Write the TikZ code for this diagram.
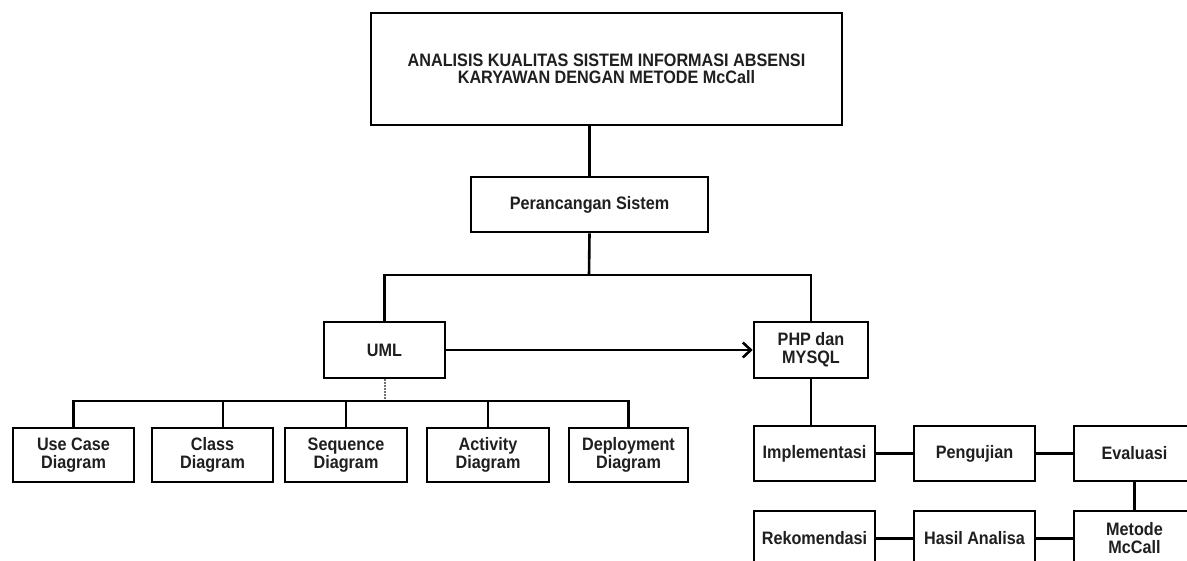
\documentclass[tikz,border=0pt]{standalone}
\usepackage{fontspec}
\setmainfont{Liberation Sans}[FakeStretch=0.9]
\usetikzlibrary{arrows.meta}
\tikzset{
  box/.style={draw=black, line width=2.6pt, fill=white, align=center, inner sep=0pt,
    font=\bfseries\fontsize{18}{18}\selectfont, text=black!88},
  conn/.style={draw=black, line width=2.6pt},
  gconn/.style={draw=black!55, line width=2pt, densely dotted},
}
\begin{document}
\begin{tikzpicture}[x=1pt,y=-1pt]
\useasboundingbox (0,0) rectangle (1187,561);
% top
\node[box, minimum width=471pt, minimum height=112pt, font=\bfseries\fontsize{18}{17}\selectfont]
  (title) at (606.5,69) {ANALISIS KUALITAS SISTEM INFORMASI ABSENSI\\KARYAWAN DENGAN METODE McCall};
\node[box, minimum width=237pt, minimum height=55pt] (per) at (589.5,204.5) {Perancangan Sistem};
\node[box, minimum width=121pt, minimum height=56pt] (uml) at (384.5,350) {UML};
\node[box, minimum width=114pt, minimum height=56pt] (php) at (811,350) {PHP dan\\MYSQL};
% UML children
\node[box, minimum width=121pt, minimum height=54pt] (uc) at (73.5,455) {Use Case\\Diagram};
\node[box, minimum width=121pt, minimum height=54pt] (cd) at (212.5,455) {Class\\Diagram};
\node[box, minimum width=122pt, minimum height=54pt] (sd) at (346,455) {Sequence\\Diagram};
\node[box, minimum width=122pt, minimum height=54pt] (ad) at (488,455) {Activity\\Diagram};
\node[box, minimum width=119pt, minimum height=54pt] (dd) at (628.5,455) {Deployment\\Diagram};
% right side
\node[box, minimum width=121pt, minimum height=55pt] (imp) at (814.5,453.5) {Implementasi};
\node[box, minimum width=121pt, minimum height=55pt] (pgj) at (974.5,453.5) {Pengujian};
\node[box, minimum width=121pt, minimum height=55pt] (eva) at (1134.5,453.5) {Evaluasi};
\node[box, minimum width=121pt, minimum height=55pt] (rek) at (814.5,538.5) {Rekomendasi};
\node[box, minimum width=121pt, minimum height=55pt] (has) at (974.5,538.5) {Hasil Analisa};
\node[box, minimum width=121pt, minimum height=55pt] (met) at (1134.5,538.5) {Metode\\McCall};
% coordinates
\coordinate (busA) at (589,275);
\coordinate (busB) at (385,401);
% connectors
\draw[conn] (title.south -| per.north) -- (per.north);
\draw[conn] (per.south) -- (busA);
\draw[conn] (uml.north) |- (busA) -| (php.north);
\draw[conn, -{Straight Barb[length=8pt,width=15pt]}] (uml.east) -- (php.west);
\draw[gconn] (uml.south -| busB) -- (busB);
\draw[conn] (uc.north) |- (busB) -| (dd.north);
\draw[conn] (busB -| 223,0) -- (cd.north -| 223,0);
\draw[conn] (busB -| sd.north) -- (sd.north);
\draw[conn] (busB -| ad.north) -- (ad.north);
\draw[conn] (php.south) -- (php.south |- imp.north);
\draw[conn] (imp) -- (pgj);
\draw[conn] (pgj) -- (eva);
\draw[conn] (eva) -- (met);
\draw[conn] (met) -- (has);
\draw[conn] (has) -- (rek);
\end{tikzpicture}
\end{document}
